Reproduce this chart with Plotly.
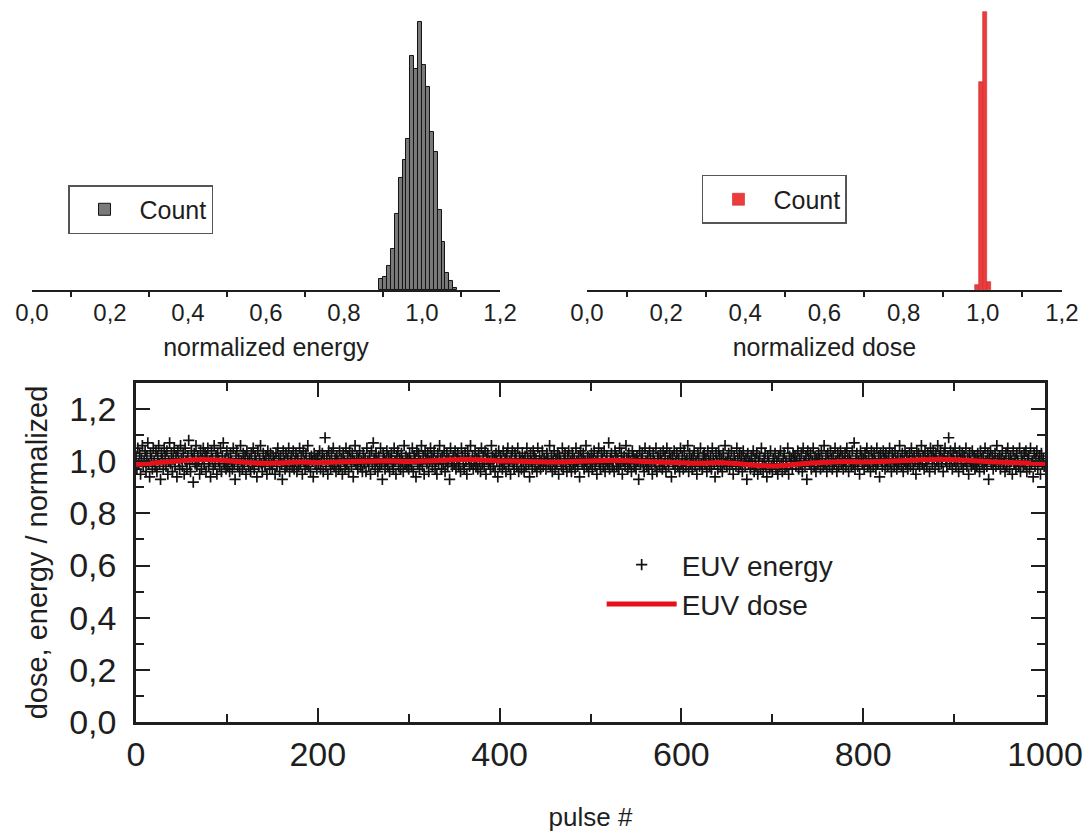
import plotly.graph_objects as go

# ---------------- data ----------------
# energy histogram (bin centres, counts)
E_BIN_CENTERS = [0.895, 0.905, 0.915, 0.925, 0.935, 0.945, 0.955, 0.965, 0.975, 0.985,
                 0.995, 1.005, 1.015, 1.025, 1.035, 1.045, 1.055, 1.065, 1.075, 1.085]
E_COUNTS = [5, 6, 11, 19, 35, 52, 60, 70, 108, 102, 124, 104, 94, 73, 64, 37, 22, 8, 4, 1]

# dose histogram
D_BIN_CENTERS = [0.985, 0.995, 1.005, 1.015]
D_COUNTS = [10, 417, 557, 16]

# pulse-resolved normalized EUV energy (pulses 0..999)
ENERGY = [
    1.02,0.97,1.05,0.99,1.03,0.95,1.01,1.06,0.98,1.00,1.04,0.96,1.02,1.07,0.99,0.94,1.03,1.01,0.97,1.05,1.00,0.98,1.04,0.96,1.02,
    1.06,0.99,0.93,1.03,1.01,0.97,1.05,1.02,0.98,1.04,0.95,1.00,1.07,0.99,1.03,0.96,1.01,1.05,0.98,1.02,0.94,1.04,1.00,0.97,1.06,
    1.01,0.98,1.03,0.95,1.05,1.00,0.97,1.02,1.08,0.99,0.96,1.04,1.01,0.92,1.03,0.99,1.06,0.98,1.02,1.00,0.95,1.04,0.97,1.01,1.05,
    0.99,1.03,0.96,1.02,1.05,0.98,1.00,0.94,1.04,1.01,0.97,1.06,0.99,1.02,0.95,1.03,1.00,0.98,1.05,0.96,1.02,1.07,0.99,1.01,0.97,
    1.04,0.98,1.01,0.96,1.03,1.00,0.97,1.05,0.99,0.93,1.02,1.04,0.98,1.01,0.96,1.06,1.00,0.97,1.03,0.99,1.02,0.95,1.04,1.00,0.98,
    1.01,0.96,1.03,0.99,1.05,0.97,1.02,1.00,0.94,1.04,0.98,1.01,1.06,0.99,0.96,1.03,1.00,0.98,1.02,0.95,1.04,1.01,0.97,1.03,0.99,
    0.97,1.02,1.00,0.95,1.03,0.98,1.05,1.01,0.96,1.02,0.99,0.93,1.04,1.00,0.97,1.03,0.98,1.01,1.05,0.96,1.00,1.02,0.98,1.04,0.97,
    1.00,1.03,0.96,1.01,0.98,1.05,0.99,1.02,0.95,1.04,1.00,0.97,1.03,0.99,1.06,0.98,1.01,0.96,1.02,1.00,0.94,1.03,0.99,1.01,0.97,
    1.02,0.99,1.04,0.97,1.00,1.03,0.96,1.01,1.09,0.98,1.02,0.95,1.04,1.00,0.97,1.03,0.99,1.05,0.98,1.01,0.96,1.02,1.00,0.97,1.04,
    0.98,1.01,0.95,1.03,1.00,0.97,1.05,0.99,1.02,0.96,1.04,1.01,0.98,1.03,0.94,1.00,1.06,0.99,1.02,0.97,1.01,1.04,0.98,1.00,0.96,
    1.03,0.99,1.01,0.96,1.05,1.00,0.98,1.02,0.95,1.04,0.99,1.07,1.01,0.97,1.03,1.00,0.96,1.02,0.98,1.05,0.99,0.93,1.03,1.01,0.97,
    1.00,1.04,0.98,1.02,0.96,1.01,1.03,0.99,0.97,1.05,1.00,0.95,1.02,1.04,0.98,1.01,0.97,1.03,1.00,0.96,1.06,0.99,1.02,0.98,1.01,
    0.97,1.03,1.00,0.98,1.05,0.96,1.02,1.01,0.94,1.04,0.99,1.03,0.97,1.00,1.06,0.98,1.02,0.95,1.04,1.01,0.99,1.03,0.96,1.00,1.05,
    1.02,0.98,1.01,1.04,0.97,1.00,0.95,1.03,0.99,1.06,1.01,0.97,1.02,0.99,1.04,0.96,1.00,1.03,0.98,1.01,0.93,1.05,1.00,0.98,1.02,
    0.99,1.04,0.97,1.01,1.03,0.98,1.00,0.96,1.05,1.02,0.99,0.97,1.03,1.00,0.95,1.04,1.01,0.98,1.06,0.99,1.02,0.97,1.00,1.04,0.98,
    1.01,0.97,1.03,1.00,0.96,1.05,0.99,1.02,0.98,1.04,0.95,1.01,1.03,0.99,1.00,0.97,1.06,1.02,0.98,1.01,0.96,1.03,1.00,0.94,1.04,
    0.98,1.02,1.00,0.97,1.04,0.99,1.01,0.96,1.03,1.05,0.98,1.00,0.95,1.02,1.04,0.99,0.97,1.03,1.01,0.98,1.05,0.96,1.02,1.00,0.97,
    1.03,1.00,0.96,1.02,0.98,1.05,1.01,0.99,0.94,1.03,1.00,0.97,1.04,1.02,0.98,1.01,0.96,1.05,0.99,1.02,0.97,1.00,1.04,0.98,1.01,
    1.00,0.97,1.03,1.01,0.99,1.06,0.98,1.02,0.96,1.00,1.04,0.97,1.01,0.99,1.03,0.95,1.02,1.00,0.98,1.05,0.97,1.01,1.03,0.99,0.96,
    1.02,1.04,0.98,1.00,0.96,1.03,0.99,1.01,0.97,1.05,1.00,0.98,1.02,0.94,1.04,1.01,0.99,1.03,0.97,1.00,1.06,0.98,1.02,0.96,1.01,
    0.99,1.03,0.97,1.01,1.04,0.98,1.00,0.95,1.02,1.05,0.99,0.97,1.03,1.01,0.98,1.04,0.96,1.00,1.02,0.99,1.07,0.97,1.01,1.03,0.98,
    1.00,0.96,1.04,1.02,0.98,1.01,0.97,1.05,0.99,1.03,0.95,1.00,1.02,0.98,1.06,1.01,0.97,1.03,0.99,1.00,0.96,1.04,1.02,0.98,1.01,
    0.97,1.02,1.00,0.93,1.04,0.99,1.01,1.03,0.98,0.96,1.05,1.00,0.98,1.02,0.97,1.04,1.01,0.99,0.95,1.03,1.00,0.98,1.05,0.96,1.02,
    1.01,0.98,1.03,1.00,0.97,1.04,0.99,1.02,0.96,1.05,1.00,0.98,1.03,1.01,0.94,1.02,0.99,1.04,0.97,1.00,1.03,0.98,1.01,0.96,1.05,
    0.99,1.02,0.97,1.04,1.00,0.98,1.01,1.06,0.96,1.03,0.99,1.01,0.97,1.02,1.04,0.98,1.00,0.95,1.03,1.01,0.98,1.05,0.99,0.97,1.02,
    1.03,0.99,1.01,0.96,1.04,1.00,0.98,1.02,0.97,1.05,1.01,0.99,0.94,1.03,1.00,0.97,1.04,1.02,0.98,1.01,0.96,1.03,0.99,1.06,1.00,
    0.98,1.01,1.03,0.97,1.00,1.04,0.99,0.95,1.02,1.00,0.98,1.05,1.01,0.97,1.03,0.99,1.02,0.96,1.04,1.00,0.98,1.01,0.93,1.03,0.99,
    1.00,0.97,1.02,0.99,1.04,0.96,1.01,0.98,1.03,0.95,1.00,1.02,0.97,1.05,0.99,0.96,1.01,1.03,0.98,0.94,1.02,1.00,0.97,1.04,0.98,
    0.96,1.01,0.99,1.03,0.97,1.00,0.95,1.02,0.98,1.04,0.99,0.96,1.01,1.03,0.97,1.00,0.98,1.05,0.95,1.02,0.99,1.01,0.97,1.03,1.00,
    1.02,0.98,1.00,1.04,0.97,1.01,0.99,1.03,0.96,1.05,1.00,0.98,1.02,0.93,1.04,1.01,0.99,1.03,0.97,1.00,1.05,0.98,1.02,0.96,1.01,
    0.99,1.03,1.01,0.97,1.04,1.00,0.98,1.06,0.99,1.02,0.96,1.03,1.00,0.98,1.04,1.01,0.97,1.02,0.99,1.05,1.00,0.96,1.03,0.98,1.01,
    1.04,0.99,1.02,0.97,1.00,1.03,0.98,1.05,1.01,0.96,1.02,1.00,0.98,1.04,0.99,1.07,0.97,1.01,1.03,0.98,1.00,0.95,1.04,1.02,0.99,
    1.01,0.97,1.03,1.00,1.05,0.98,1.02,0.99,0.96,1.04,1.01,0.98,1.03,1.00,0.97,1.05,0.99,1.02,0.94,1.03,1.00,0.98,1.04,1.01,0.97,
    1.03,1.00,0.98,1.02,1.05,0.99,0.96,1.03,1.01,0.98,1.04,1.00,0.97,1.02,0.99,1.06,1.01,0.98,1.03,0.96,1.00,1.04,0.99,1.02,0.97,
    1.00,1.03,0.98,1.05,1.01,0.97,1.02,1.00,0.95,1.04,0.99,1.03,0.98,1.01,1.06,0.99,1.02,0.97,1.04,1.00,0.98,1.03,1.01,0.96,1.05,
    1.02,0.99,1.04,1.01,0.97,1.03,1.00,1.06,0.98,1.02,1.04,0.99,1.01,0.96,1.03,1.05,1.00,0.98,1.02,1.09,0.99,1.04,1.01,0.97,1.03,
    1.00,1.05,0.98,1.02,1.00,0.96,1.04,1.01,0.99,1.03,0.97,1.02,1.00,1.05,0.98,1.01,0.95,1.03,1.00,0.98,1.04,0.99,1.02,0.97,1.01,
    0.98,1.03,1.00,0.96,1.04,1.01,0.99,1.02,0.97,1.05,1.00,0.98,1.03,0.93,1.01,1.04,0.99,1.02,0.97,1.00,1.03,0.98,1.06,1.01,0.99,
    1.02,0.97,1.01,1.04,0.99,1.00,0.96,1.03,0.98,1.05,1.01,0.97,1.02,1.00,0.95,1.04,0.99,1.01,0.97,1.03,1.00,0.98,1.05,0.96,1.02,
    1.00,0.98,1.03,0.99,1.04,0.96,1.01,1.02,0.97,1.05,0.99,1.00,0.94,1.03,0.98,1.01,1.04,0.97,1.00,1.02,0.95,1.03,0.99,1.01,0.98,
]
PULSE = list(range(len(ENERGY)))

# normalized dose (read every 20 pulses)
DOSE_PULSE = [0, 20, 40, 60, 80, 100, 120, 140, 160, 180, 200, 220, 240, 260, 280, 300, 320, 340, 360, 380,
              400, 420, 440, 460, 480, 500, 520, 540, 560, 580, 600, 620, 640, 660, 680, 700, 720, 740, 760, 780,
              800, 820, 840, 860, 880, 900, 920, 940, 960, 980, 1000]
DOSE = [0.988, 0.993, 0.999, 1.005, 1.006, 1.002, 0.996, 0.992, 0.994, 0.997, 0.995, 0.997, 0.999, 1.000, 1.001,
        0.999, 1.001, 1.004, 1.007, 1.005, 1.001, 1.000, 0.998, 0.997, 0.999, 1.001, 1.003, 1.002, 0.999, 0.996,
        0.994, 0.992, 0.995, 0.991, 0.985, 0.982, 0.986, 0.992, 0.996, 0.999, 0.997, 0.999, 1.002, 1.005, 1.007,
        1.006, 1.002, 0.998, 0.995, 0.993, 0.991]

HIST_TICKS = [0.0, 0.2, 0.4, 0.6, 0.8, 1.0, 1.2]
HIST_MINOR = [0.1, 0.3, 0.5, 0.7, 0.9, 1.1]

# ---------------- figure ----------------
FONT = "Liberation Sans, Arial, sans-serif"
INK = "#1e1e1e"

fig = go.Figure()

fig.add_trace(go.Bar(
    x=E_BIN_CENTERS, y=E_COUNTS, width=0.01, name="Count",
    marker=dict(color="#7a7a7a", line=dict(color="#141414", width=1)),
    xaxis="x", yaxis="y", legend="legend", showlegend=True,
))
fig.add_trace(go.Bar(
    x=D_BIN_CENTERS, y=D_COUNTS, width=0.01, name="Count",
    marker=dict(color="#ee3b3b", line=dict(color="#c42a2a", width=0.6)),
    xaxis="x2", yaxis="y2", legend="legend2", showlegend=True,
))
fig.add_trace(go.Scatter(
    x=PULSE, y=ENERGY, mode="markers", name="EUV energy",
    marker=dict(symbol="cross-thin", size=8, color="#111", line=dict(width=1.7, color="#111")),
    xaxis="x3", yaxis="y3", legend="legend3",
))
fig.add_trace(go.Scatter(
    x=DOSE_PULSE, y=DOSE, mode="lines", name="EUV dose",
    line=dict(color="#e8111a", width=5, shape="spline"),
    xaxis="x3", yaxis="y3", legend="legend3",
))

hist_x = dict(
    range=[0, 1.2], tickmode="array", tickvals=HIST_TICKS, tickformat=".1f",
    ticks="", showline=True, linecolor=INK, linewidth=2, showgrid=False, zeroline=False,
    tickfont=dict(size=24, color=INK, family=FONT),
    minor=dict(tickmode="array", tickvals=HIST_MINOR, ticks="outside", ticklen=5,
               tickwidth=1.5, tickcolor=INK, showgrid=False),
    fixedrange=True,
)

fig.update_layout(
    width=1088, height=832,
    margin=dict(l=0, r=0, t=0, b=0),
    template="none",
    paper_bgcolor="white", plot_bgcolor="rgba(0,0,0,0)",
    separators=",.",
    font=dict(family=FONT, color=INK),
    bargap=0,
    xaxis=dict(hist_x, domain=[0.0294, 0.4596], anchor="y",
               title=dict(text="normalized energy", font=dict(size=25, family=FONT, color=INK), standoff=14)),
    yaxis=dict(domain=[0.6514, 0.988], range=[0, 129.5], visible=False, anchor="x"),
    xaxis2=dict(hist_x, domain=[0.5395, 0.976], anchor="y2",
                title=dict(text="normalized dose", font=dict(size=25, family=FONT, color=INK), standoff=14)),
    yaxis2=dict(domain=[0.6514, 0.988], range=[0, 561], visible=False, anchor="x2"),
    xaxis3=dict(
        domain=[0.125, 0.9605], anchor="y3", range=[0, 1000], tick0=0, dtick=200,
        showline=True, mirror="ticks", linecolor=INK, linewidth=2.5,
        ticks="inside", ticklen=14, tickwidth=2, tickcolor=INK,
        minor=dict(dtick=100, ticks="inside", ticklen=8, tickwidth=2, tickcolor=INK, showgrid=False),
        showgrid=False, zeroline=False, ticklabelstandoff=0,
        tickfont=dict(size=34, family=FONT, color=INK),
        title=dict(text="pulse #", font=dict(size=26, family=FONT, color=INK), standoff=40),
    ),
    yaxis3=dict(
        domain=[0.1322, 0.5397], anchor="x3", range=[0, 1.3], tick0=0, dtick=0.2, tickformat=".1f",
        showline=True, mirror="ticks", linecolor=INK, linewidth=2.5,
        ticks="inside", ticklen=14, tickwidth=2, tickcolor=INK,
        minor=dict(dtick=0.1, ticks="inside", ticklen=8, tickwidth=2, tickcolor=INK, showgrid=False),
        showgrid=False, zeroline=False, ticklabelstandoff=10,
        tickfont=dict(size=34, family=FONT, color=INK),
        title=dict(text="dose, energy / normalized", font=dict(size=29, family=FONT, color=INK), standoff=14),
    ),
    legend=dict(x=0.0625, y=0.7776, xanchor="left", yanchor="top",
                bordercolor="#555", borderwidth=1.5, bgcolor="white",
                font=dict(size=25, family=FONT, color=INK), itemwidth=60),
    legend2=dict(x=0.6452, y=0.7897, xanchor="left", yanchor="top",
                 bordercolor="#555", borderwidth=1.5, bgcolor="white",
                 font=dict(size=25, family=FONT, color=INK), itemwidth=60),
    legend3=dict(x=0.553, y=0.351, xanchor="left", yanchor="top",
                 borderwidth=0, bgcolor="rgba(0,0,0,0)",
                 font=dict(size=28, family=FONT, color=INK), itemwidth=70, tracegroupgap=0),
)

fig.write_html("out.html")
